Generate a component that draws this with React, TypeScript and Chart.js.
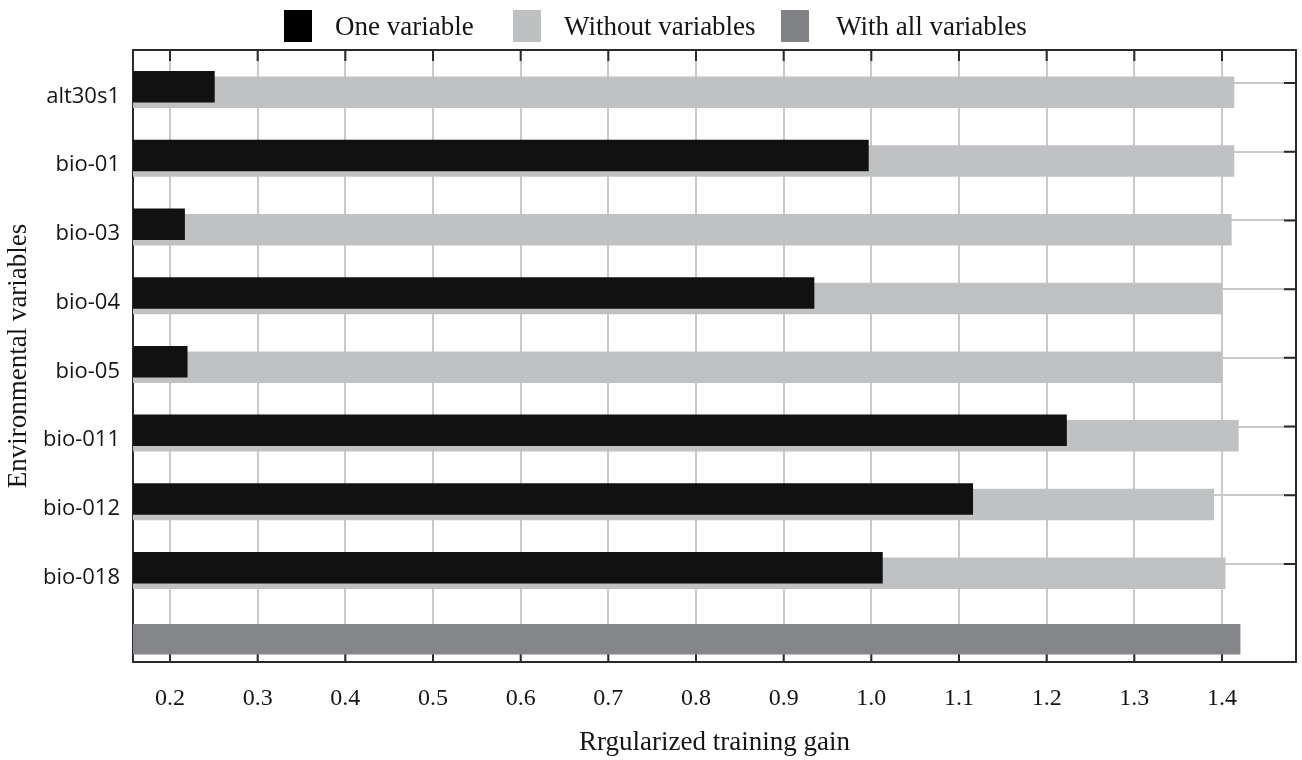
import React, { useEffect, useRef } from 'react';
import { Chart, registerables } from 'chart.js';

Chart.register(...registerables);

// ---- data ----
const categories = ['alt30s1', 'bio-01', 'bio-03', 'bio-04', 'bio-05', 'bio-011', 'bio-012', 'bio-018'];
const oneVariable = [0.251, 0.997, 0.217, 0.935, 0.220, 1.223, 1.116, 1.013];
const withoutVariables = [1.414, 1.414, 1.411, 1.400, 1.400, 1.419, 1.391, 1.404];
const withAllVariables = [1.421];
const xTicks = [0.2, 0.3, 0.4, 0.5, 0.6, 0.7, 0.8, 0.9, 1.0, 1.1, 1.2, 1.3, 1.4];
const legendLabels = ['One variable', 'Without variables', 'With all variables'];
const xTitle = 'Rrgularized training gain';
const yTitle = 'Environmental variables';

// ---- style / layout ----
const COLORS = {
  one: '#111111',
  without: '#c0c1c3',
  all: '#858689',
  grid: '#c9c9c9',
  axis: '#2a2a2a',
  text: '#151515',
};
const LEGEND_COLORS = ['#000000', '#bebfc1', '#818285'];
const LEGEND_POS = [
  { box: 284, text: 335 },
  { box: 513, text: 564 },
  { box: 781, text: 836 },
];
const X_MIN = 0.1578;
const X_MAX = 1.4844;
const Y_MIN = -0.5764;
const Y_MAX = 8.332;
const GRID_SHIFT = 0.095;
const SERIF = "'Liberation Serif', 'Times New Roman', serif";
const SANS = "'Open Sans', 'Noto Sans', sans-serif";

const framePlugin = {
  id: 'frame',
  beforeDatasetsDraw(chart: any) {
    const { ctx, chartArea, scales } = chart;
    const { left, right, top, bottom } = chartArea;
    ctx.save();
    ctx.strokeStyle = COLORS.axis;
    ctx.lineWidth = 2;
    ctx.beginPath();
    ctx.moveTo(left - 1, top);
    ctx.lineTo(right, top);
    ctx.lineTo(right, bottom + 1);
    scales.x.ticks.forEach((t: any) => {
      const px = scales.x.getPixelForValue(t.value);
      ctx.moveTo(px, top);
      ctx.lineTo(px, top + 11);
      ctx.moveTo(px, bottom);
      ctx.lineTo(px, bottom - 12);
    });
    scales.y.ticks.forEach((t: any) => {
      const py = scales.y.getPixelForValue(t.value);
      ctx.moveTo(right, py);
      ctx.lineTo(right - 12, py);
    });
    ctx.stroke();
    ctx.restore();
  },
};

export default function App() {
  const canvasRef = useRef<HTMLCanvasElement | null>(null);

  useEffect(() => {
    if (!canvasRef.current) return;
    const lastRow = categories.length;
    const oneData = categories
      .map((_, i) => ({ y: i, x: oneVariable[i] as number | null }))
      .concat([{ y: lastRow, x: null }]);
    const withoutData = categories
      .map((_, i) => ({ y: i, x: withoutVariables[i] as number | null }))
      .concat([{ y: lastRow, x: null }]);
    const allData = categories
      .map((_, i) => ({ y: i, x: null as number | null }))
      .concat([{ y: lastRow, x: withAllVariables[0] }]);

    const chart = new Chart(canvasRef.current, {
      type: 'bar',
      data: {
        datasets: [
          {
            label: legendLabels[0],
            data: oneData as any,
            backgroundColor: COLORS.one,
            borderWidth: 0,
            categoryPercentage: 0.16,
            barPercentage: 5.73,
          },
          {
            label: legendLabels[1],
            data: withoutData as any,
            backgroundColor: COLORS.without,
            borderWidth: 0,
            categoryPercentage: 0.16,
            barPercentage: 5.73,
          },
          {
            label: legendLabels[2],
            data: allData as any,
            backgroundColor: COLORS.all,
            borderWidth: 0,
            categoryPercentage: 0.16,
            barPercentage: 2.77,
          },
        ],
      },
      options: {
        indexAxis: 'y',
        responsive: false,
        animation: false,
        devicePixelRatio: 1,
        skipNull: true,
        layout: { padding: { top: 50, right: 6, left: 0, bottom: 0 } },
        plugins: {
          legend: { display: false },
          tooltip: { enabled: false },
        },
        scales: {
          x: {
            type: 'linear',
            position: 'bottom',
            min: X_MIN,
            max: X_MAX,
            beginAtZero: false,
            afterBuildTicks: (scale: any) => {
              scale.ticks = xTicks.map((v) => ({ value: v }));
            },
            afterFit: (scale: any) => {
              scale.height = 98;
            },
            ticks: {
              autoSkip: false,
              maxRotation: 0,
              padding: 22,
              color: COLORS.text,
              font: { family: SERIF, size: 24 },
              callback: (v: any) => Number(v).toFixed(1),
            },
            grid: {
              color: COLORS.grid,
              lineWidth: 2,
              drawTicks: false,
            },
            border: { display: true, color: COLORS.axis, width: 2 },
            title: {
              display: true,
              text: xTitle,
              color: COLORS.text,
              font: { family: SERIF, size: 27 },
              padding: { top: 0, bottom: 1 },
            },
          },
          y: {
            type: 'linear',
            position: 'left',
            reverse: true,
            min: Y_MIN,
            max: Y_MAX,
            offset: false,
            afterBuildTicks: (scale: any) => {
              scale.ticks = categories.map((_, i) => ({ value: i - GRID_SHIFT }));
            },
            afterFit: (scale: any) => {
              scale.width = 133;
            },
            ticks: {
              autoSkip: false,
              padding: 13,
              labelOffset: 13.4,
              color: COLORS.text,
              font: { family: SANS, size: 22 },
              callback: (_v: any, index: number) => categories[index],
            },
            grid: {
              color: COLORS.grid,
              lineWidth: 2,
              drawTicks: false,
              offset: false,
            },
            border: { display: true, color: COLORS.axis, width: 2 },
            title: {
              display: true,
              text: yTitle,
              color: COLORS.text,
              font: { family: SERIF, size: 27 },
              padding: { top: 3, bottom: 0 },
            },
          },
        },
      } as any,
      plugins: [framePlugin],
    });
    return () => chart.destroy();
  }, []);

  return (
    <div
      style={{
        position: 'absolute',
        left: 0,
        top: 0,
        width: 1302,
        height: 760,
        background: '#ffffff',
        overflow: 'hidden',
      }}
    >
      <canvas ref={canvasRef} width={1302} height={760} style={{ display: 'block' }} />
      {legendLabels.map((label, i) => (
        <React.Fragment key={label}>
          <div
            style={{
              position: 'absolute',
              left: LEGEND_POS[i].box,
              top: 10,
              width: 28,
              height: 32,
              background: LEGEND_COLORS[i],
            }}
          />
          <div
            style={{
              position: 'absolute',
              left: LEGEND_POS[i].text,
              top: 10,
              height: 32,
              lineHeight: '32px',
              fontFamily: SERIF,
              fontSize: 27,
              color: COLORS.text,
              whiteSpace: 'nowrap',
            }}
          >
            {label}
          </div>
        </React.Fragment>
      ))}
    </div>
  );
}
